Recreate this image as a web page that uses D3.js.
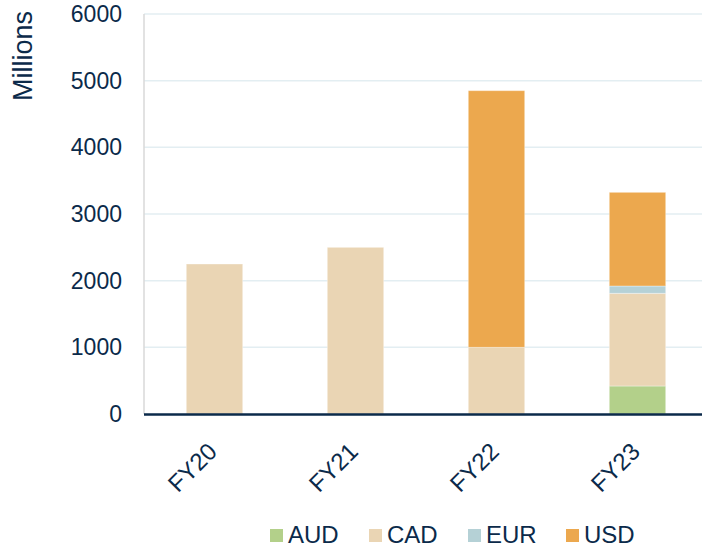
<!DOCTYPE html>
<html><head><meta charset="utf-8">
<script src="https://cdn.jsdelivr.net/npm/d3@7"></script>
<style>body{margin:0;background:#fff}svg{display:block}text{font-family:"Liberation Sans",Arial,sans-serif}</style>
</head><body><svg id="c" width="702" height="547"></svg>
<script>
const categories = ["FY20","FY21","FY22","FY23"];
const seriesNames = ["AUD","CAD","EUR","USD"];
const AUD = [0,0,0,420];
const CAD = [2250,2500,1000,1390];
const EUR = [0,0,0,110];
const USD = [0,0,3850,1405];
const yTicks = [0,1000,2000,3000,4000,5000,6000];
const colors = ["#b3d08a","#ead5b4","#b5d1d6","#eca84e"];

const seriesVals = {AUD, CAD, EUR, USD};
const rows = categories.map((c,i)=>{const r={cat:c}; seriesNames.forEach(s=>r[s]=seriesVals[s][i]); return r;});
const stack = d3.stack().keys(seriesNames)(rows);

const svg = d3.select("#c");
const ink = "#0b2a4a";
const x = d3.scaleBand().domain(categories).range([144,708]).paddingInner(0.6).paddingOuter(0.3);
const y = d3.scaleLinear().domain([0,6000]).range([414,14]);

svg.append("g").selectAll("line").data(yTicks.filter(t=>t>0)).join("line")
  .attr("x1",144).attr("x2",702).attr("y1",d=>y(d)).attr("y2",d=>y(d))
  .attr("stroke","#e3eef2").attr("stroke-width",1.5);
svg.append("line").attr("x1",144).attr("x2",144).attr("y1",14).attr("y2",414).attr("stroke","#d9d9d9").attr("stroke-width",1.5);

svg.append("g").selectAll("g").data(stack).join("g").attr("fill",(d,i)=>colors[i])
  .selectAll("rect").data(d=>d).join("rect")
  .attr("x",d=>x(d.data.cat)).attr("width",x.bandwidth())
  .attr("y",d=>y(d[1])).attr("height",d=>y(d[0])-y(d[1]))
  .attr("stroke","#ffffff").attr("stroke-opacity",0.35).attr("stroke-width",1);

svg.append("line").attr("x1",144).attr("x2",702).attr("y1",414.5).attr("y2",414.5).attr("stroke",ink).attr("stroke-width",2.5);

const yAxis = d3.axisLeft(y).tickValues(yTicks).tickSize(0).tickPadding(0).tickFormat(d3.format("d"));
const ga = svg.append("g").attr("transform","translate(122,0)").call(yAxis);
ga.select(".domain").remove();
ga.selectAll("text").attr("font-size",23).attr("fill",ink).attr("font-family","Liberation Sans, Arial, sans-serif");

svg.append("text").attr("transform","translate(32,56) rotate(-90)").attr("text-anchor","middle")
  .attr("font-size",27).attr("fill",ink).text("Millions");

const xAxis = d3.axisBottom(x).tickSize(0).tickPadding(0);
const gx = svg.append("g").attr("transform","translate(0,414)").call(xAxis);
gx.select(".domain").remove();
gx.selectAll("text").attr("font-size",24).attr("fill",ink).attr("font-family","Liberation Sans, Arial, sans-serif")
  .attr("text-anchor","end").attr("dy",null).attr("y",0)
  .attr("transform","translate(4,39) rotate(-45)");

const legX = [270,369,468,566];
const lg = svg.append("g").selectAll("g").data(seriesNames).join("g")
  .attr("transform",(d,i)=>`translate(${legX[i]},0)`);
lg.append("rect").attr("x",0).attr("y",529).attr("width",13).attr("height",13).attr("fill",(d,i)=>colors[i]);
lg.append("text").attr("x",18).attr("y",543).attr("font-size",24).attr("fill",ink).text(d=>d);
</script></body></html>
